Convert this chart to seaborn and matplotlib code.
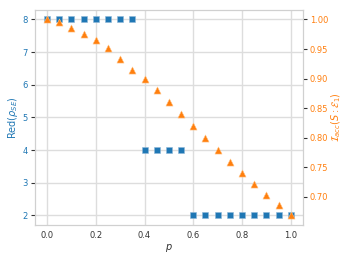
import matplotlib
matplotlib.use("Agg")
import matplotlib.pyplot as plt
import seaborn as sns
import numpy as np
import pandas as pd

p_values = [0.0, 0.05, 0.1, 0.15, 0.2, 0.25, 0.3, 0.35, 0.4, 0.45, 0.5,
            0.55, 0.6, 0.65, 0.7, 0.75, 0.8, 0.85, 0.9, 0.95, 1.0]
red_values = [8, 8, 8, 8, 8, 8, 8, 8, 4, 4, 4, 4,
              2, 2, 2, 2, 2, 2, 2, 2, 2]
iacc_values = [1.0, 0.995, 0.985, 0.976, 0.965, 0.951, 0.934, 0.915, 0.899,
               0.881, 0.861, 0.840, 0.820, 0.800, 0.780, 0.759, 0.740,
               0.722, 0.704, 0.687, 0.669]

sns.set_theme(style="whitegrid")
plt.rcParams['font.family'] = ['DejaVu Sans']
plt.rcParams.update({
    "axes.edgecolor": "#d0d0d0",
    "grid.color": "#dddddd",
    "xtick.bottom": False,
    "ytick.left": True,
    "ytick.right": True,
})

df = pd.DataFrame({"p": p_values, "red": red_values, "iacc": iacc_values})

blue = "#1f77b4"
orange = "#ff7f0e"

fig, ax = plt.subplots(figsize=(3.49, 2.62), dpi=100)
fig.subplots_adjust(left=0.1, right=0.868, top=0.963, bottom=0.141)

sns.scatterplot(data=df, x="p", y="red", ax=ax, marker="s", color=blue,
                s=24, edgecolor="#8fb8d8", linewidth=0.4, zorder=3)
ax2 = ax.twinx()
sns.scatterplot(data=df, x="p", y="iacc", ax=ax2, marker="^", color=orange,
                s=26, edgecolor="#ffc080", linewidth=0.4, zorder=3)
ax2.grid(False)

ax.set_xlabel("$p$", fontsize=7, color="#333333", labelpad=2)
ax.set_ylabel(r"Red$(\rho_{SE})$", fontsize=7, color=blue, labelpad=1.5)
ax2.set_ylabel(r"$\mathcal{I}_{acc}(S:\mathcal{E}_1)$", fontsize=7, color=orange, labelpad=1)

ax.set_xticks([0.0, 0.2, 0.4, 0.6, 0.8, 1.0])
ax.set_yticks([2, 3, 4, 5, 6, 7, 8])
ax2.set_yticks([0.70, 0.75, 0.80, 0.85, 0.90, 0.95, 1.00])

ax.tick_params(axis="x", labelsize=6, colors="#333333", length=0, pad=4)
ax.tick_params(axis="y", labelsize=6, colors="#333333", labelcolor=blue,
               length=3, width=0.8, pad=2, left=True)
ax2.tick_params(axis="y", labelsize=6, colors="#333333", labelcolor=orange,
                length=3, width=0.8, pad=2, right=True)

for a in (ax, ax2):
    for s in a.spines.values():
        s.set_color("#d0d0d0")
        s.set_linewidth(0.8)

fig.savefig("out.png", dpi=100)
